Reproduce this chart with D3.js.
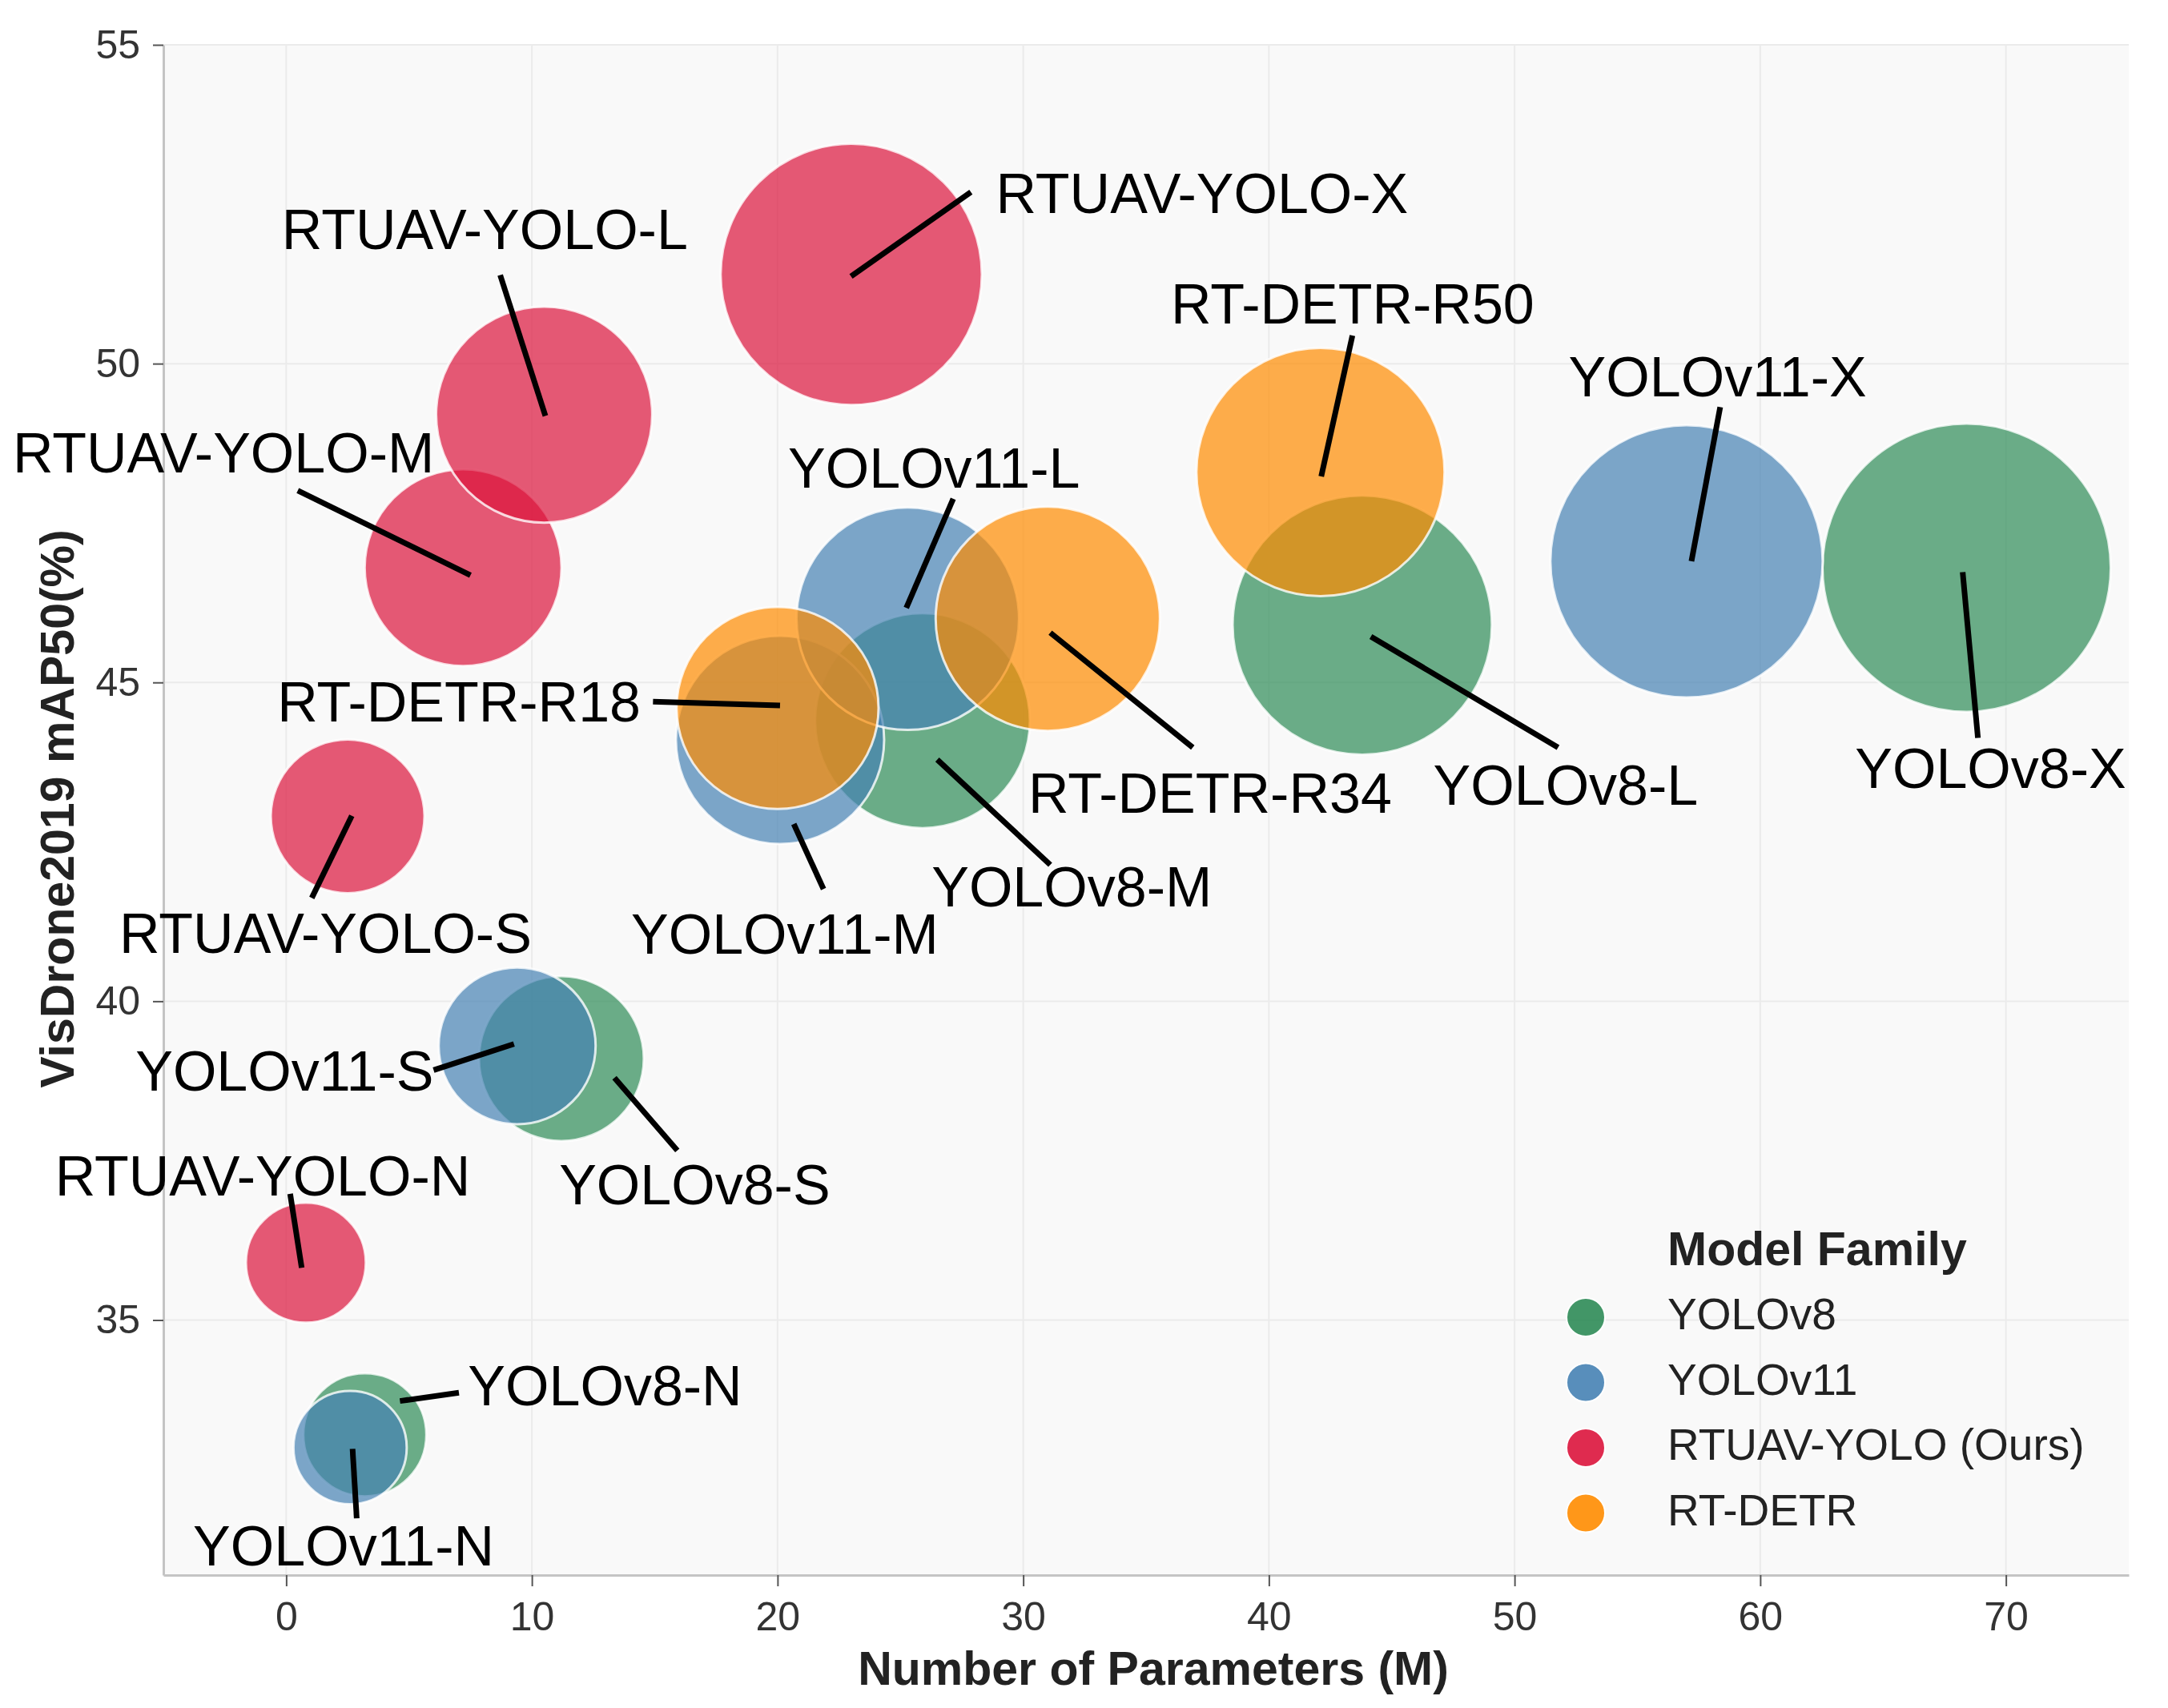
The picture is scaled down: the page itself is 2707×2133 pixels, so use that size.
<!DOCTYPE html>
<html>
<head>
<meta charset="utf-8">
<script src="https://cdn.jsdelivr.net/npm/d3@7"></script>
<style>
  body { margin: 0; background: #fff; }
  text { font-family: "Liberation Sans", Arial, sans-serif; }
</style>
</head>
<body>
<svg id="chart" width="2707" height="2133"></svg>
<script>
// ---- data ----
const models   = ["YOLOv8-N","YOLOv8-S","YOLOv8-M","YOLOv8-L","YOLOv8-X",
                  "YOLOv11-N","YOLOv11-S","YOLOv11-M","YOLOv11-L","YOLOv11-X",
                  "RTUAV-YOLO-N","RTUAV-YOLO-S","RTUAV-YOLO-M","RTUAV-YOLO-L","RTUAV-YOLO-X",
                  "RT-DETR-R18","RT-DETR-R34","RT-DETR-R50"]
const family   = ["YOLOv8","YOLOv8","YOLOv8","YOLOv8","YOLOv8",
                  "YOLOv11","YOLOv11","YOLOv11","YOLOv11","YOLOv11",
                  "RTUAV","RTUAV","RTUAV","RTUAV","RTUAV",
                  "RT-DETR","RT-DETR","RT-DETR"]
const params   = [3.2, 11.2, 25.9, 43.8, 68.4,
                  2.6, 9.4, 20.1, 25.3, 57.0,
                  0.8, 2.5, 7.2, 10.5, 23.0,
                  20.0, 31.0, 42.1]
const map50    = [33.2, 39.1, 44.4, 45.9, 46.8,
                  33.0, 39.3, 44.1, 46.0, 46.9,
                  35.9, 42.9, 46.8, 49.2, 51.4,
                  44.6, 46.0, 48.3]
const bubble   = [59, 106, 180, 262, 324,
                  50, 96, 169, 193, 289,
                  56, 92, 151, 182, 266,
                  159, 196, 240]

// label text anchor (data coords), alignment, leader line start and tip (data coords)
const labelX   = [7.40, 11.11, 26.27, 46.69, 63.86,
                  -3.79, 6.00, 14.04, 20.43, 52.20,
                  -9.41, -6.79, -11.13, -0.18, 28.89,
                  14.43, 30.21, 36.01]
const labelY   = [33.66, 36.81, 41.49, 43.08, 43.35,
                  31.15, 38.60, 40.75, 48.06, 49.49,
                  36.95, 40.76, 48.29, 51.80, 52.36,
                  44.39, 42.95, 50.63]
const labelAnchor = ["start","start","start","start","start",
                     "start","end","start","start","start",
                     "start","start","start","start","start",
                     "end","start","start"]
const lineFromX = [4.63, 13.36, 26.50, 44.15, 68.24,
                   2.70, 9.27, 20.66, 25.24, 57.20,
                   0.63, 2.67, 7.50, 10.55, 22.99,
                   20.10, 31.10, 42.13]
const lineFromY = [33.73, 38.80, 43.79, 45.72, 46.73,
                   32.98, 39.33, 42.78, 46.17, 46.90,
                   35.82, 42.91, 46.68, 49.18, 51.37,
                   44.64, 45.78, 48.23]
const lineToX  = [7.03, 15.92, 31.10, 51.77, 68.86,
                  2.87, 6.00, 21.87, 27.15, 58.37,
                  0.16, 1.04, 0.47, 8.71, 27.87,
                  14.93, 36.90, 43.40]
const lineToY  = [33.86, 37.66, 42.14, 43.98, 44.13,
                  31.89, 38.92, 41.76, 47.88, 49.32,
                  36.98, 41.62, 48.01, 51.39, 52.69,
                  44.70, 43.98, 50.44]

const legendKeys   = ["YOLOv8","YOLOv11","RTUAV","RT-DETR"]
const legendLabels = ["YOLOv8","YOLOv11","RTUAV-YOLO (Ours)","RT-DETR"]
const xTicks = [0,10,20,30,40,50,60,70]
const yTicks = [35,40,45,50,55]

// ---- layout ----
const svg = d3.select("#chart")
const plot = {left: 204, right: 2658, top: 56, bottom: 1967}

const x = d3.scaleLinear().domain([-5, 75]).range([plot.left, plot.right])
const y = d3.scaleLinear().domain([31, 55]).range([plot.bottom, plot.top])
const r = d3.scaleSqrt().domain([0, 100]).range([0, 100])
const color = d3.scaleOrdinal()
  .domain(legendKeys)
  .range(["#2E8B57", "#4682B4", "#DC143C", "#FF8C00"])

// background
svg.append("rect")
  .attr("x", plot.left).attr("y", plot.top)
  .attr("width", plot.right - plot.left).attr("height", plot.bottom - plot.top)
  .attr("fill", "#f9f9f9")

// grid
svg.append("g").selectAll("line").data(xTicks).join("line")
  .attr("x1", d => x(d)).attr("x2", d => x(d))
  .attr("y1", plot.top).attr("y2", plot.bottom)
  .attr("stroke", "#ebebeb").attr("stroke-width", 2)
svg.append("g").selectAll("line").data(yTicks).join("line")
  .attr("x1", plot.left).attr("x2", plot.right)
  .attr("y1", d => y(d)).attr("y2", d => y(d))
  .attr("stroke", "#ebebeb").attr("stroke-width", 2)

// axes
const xAxis = svg.append("g")
  .attr("transform", `translate(0,${plot.bottom})`)
  .call(d3.axisBottom(x).tickValues(xTicks).tickSize(14).tickPadding(19).tickSizeOuter(0))
const yAxis = svg.append("g")
  .attr("transform", `translate(${plot.left},0)`)
  .call(d3.axisLeft(y).tickValues(yTicks).tickSize(13).tickPadding(16).tickSizeOuter(0))
;[xAxis, yAxis].forEach(g => {
  g.select(".domain").attr("stroke", "#c4c4c4").attr("stroke-width", 3)
  g.selectAll(".tick line").attr("stroke", "#555").attr("stroke-width", 2)
  g.selectAll(".tick text").attr("font-size", 50).attr("fill", "#333")
    .attr("font-family", "Liberation Sans, Arial, sans-serif")
})

// bubbles
const idx = d3.range(models.length)
svg.append("g").selectAll("circle").data(idx).join("circle")
  .attr("cx", i => x(params[i]))
  .attr("cy", i => y(map50[i]))
  .attr("r", i => r(bubble[i]))
  .attr("fill", i => color(family[i]))
  .attr("fill-opacity", 0.7)
  .attr("stroke", "#ffffff")
  .attr("stroke-opacity", 0.8)
  .attr("stroke-width", 3)

// leader lines
svg.append("g").selectAll("line").data(idx).join("line")
  .attr("x1", i => x(lineFromX[i])).attr("y1", i => y(lineFromY[i]))
  .attr("x2", i => x(lineToX[i])).attr("y2", i => y(lineToY[i]))
  .attr("stroke", "#000").attr("stroke-width", 7)

// labels
svg.append("g").selectAll("text").data(idx).join("text")
  .attr("x", i => x(labelX[i]))
  .attr("y", i => y(labelY[i]))
  .attr("text-anchor", i => labelAnchor[i])
  .attr("font-size", 70)
  .attr("fill", "#000")
  .text(i => models[i])

// axis titles
svg.append("text")
  .attr("x", 1440).attr("y", 2104)
  .attr("text-anchor", "middle")
  .attr("font-size", 59).attr("font-weight", "bold").attr("fill", "#222")
  .text("Number of Parameters (M)")
svg.append("text")
  .attr("transform", "translate(92,1010) rotate(-90)")
  .attr("text-anchor", "middle")
  .attr("font-size", 59).attr("font-weight", "bold").attr("fill", "#222")
  .text("VisDrone2019 mAP50(%)")

// legend
const legend = svg.append("g").attr("transform", "translate(1980,1645)")
legend.append("text")
  .attr("x", 102).attr("y", -65)
  .attr("font-size", 59).attr("font-weight", "bold").attr("fill", "#222")
  .text("Model Family")
const item = legend.selectAll("g.item").data(legendKeys).join("g")
  .attr("class", "item")
  .attr("transform", (d, i) => `translate(0,${i * 81.5})`)
item.append("circle")
  .attr("r", 24)
  .attr("fill", d => color(d))
  .attr("fill-opacity", 0.9)
  .attr("stroke", "#fff").attr("stroke-width", 2)
item.append("text")
  .attr("x", 102).attr("y", 15)
  .attr("font-size", 55).attr("fill", "#222")
  .text((d, i) => legendLabels[i])
</script>
</body>
</html>
